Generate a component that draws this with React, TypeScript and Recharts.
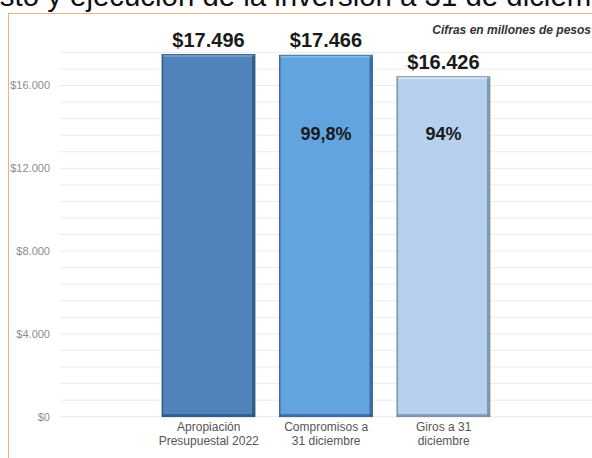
import React from 'react';
import { BarChart, Bar, XAxis, YAxis, CartesianGrid, Cell, LabelList } from 'recharts';

const categories = ['Apropiación\nPresupuestal 2022', 'Compromisos a\n31 diciembre', 'Giros a 31\ndiciembre'];
const values = [17496, 17466, 16426];
const percents = ['', '99,8%', '94%'];
const gridTicks = [0, 800, 1600, 2400, 3200, 4000, 4800, 5600, 6400, 7200, 8000, 8800, 9600, 10400, 11200, 12000, 12800, 13600, 14400, 15200, 16000, 16800, 17600];
const labelledTicks = [0, 4000, 8000, 12000, 16000];

const TITLE = 'Presupuesto y ejecución de la inversión a 31 de diciembre';
const NOTE = 'Cifras en millones de pesos';
const PCT_LEVEL = 13700;

const fills = ['#4f83ba', '#61a4df', '#b6d0ee'];
const edges = ['#2b527c', '#2f5f8c', '#72879f'];
const lights = ['#6f9bcb', '#86bbe9', '#d0e2f6'];

const data = categories.map((name, i) => ({ name, value: values[i], pct: percents[i] }));

const fmt = (v: number) => '$' + String(Math.round(v)).replace(/\B(?=(\d{3})+(?!\d))/g, '.');

const BevelBar = (props: any) => {
  const { x, y, width, height, index } = props;
  if (width == null || height == null) return null;
  const i = index ?? 0;
  return (
    <g>
      <rect x={x} y={y} width={width} height={height} fill={fills[i]} />
      <rect x={x + 1} y={y + 0.5} width={width - 2} height={2} fill={lights[i]} />
      <rect x={x + width - 3} y={y + 1} width={3} height={height - 1} fill={edges[i]} opacity={0.75} />
      <rect x={x} y={y + height - 2.5} width={width} height={2.5} fill={edges[i]} opacity={0.75} />
      <rect x={x} y={y} width={1.2} height={height} fill={edges[i]} opacity={0.6} />
      <rect x={x} y={y} width={width} height={height} fill="none" stroke={edges[i]} strokeWidth={0.8} />
    </g>
  );
};

const XTick = (props: any) => {
  const { x, y, payload } = props;
  const lines = String(payload.value).split('\n');
  return (
    <g>
      {lines.map((l, k) => (
        <text key={k} x={x} y={y + 14.5 + k * 13.5} textAnchor="middle" fontSize={12} fill="#555" fontFamily="Liberation Sans, Arial, sans-serif">
          {l}
        </text>
      ))}
    </g>
  );
};

const TopLabel = (props: any) => {
  const { x, y, width, value } = props;
  return (
    <text x={x + width / 2} y={y - 8} textAnchor="middle" fontSize={20} fontWeight="bold" fill="#1a1a1a" fontFamily="Liberation Sans, Arial, sans-serif">
      {fmt(value)}
    </text>
  );
};

const PctLabel = (props: any) => {
  const { x, y, width, height, value, index } = props;
  const p = percents[index];
  if (!p) return null;
  const bottom = y + height;
  const cy = bottom - (PCT_LEVEL * height) / value;
  return (
    <text x={x + width / 2} y={cy + 6.5} textAnchor="middle" fontSize={18} fontWeight="bold" fill="#1a1a1a" fontFamily="Liberation Sans, Arial, sans-serif">
      {p}
    </text>
  );
};

export default function App() {
  return (
    <div style={{ position: 'absolute', left: 0, top: 0, width: 592, height: 458, overflow: 'hidden', background: '#fff', fontFamily: 'Liberation Sans, Arial, sans-serif' }}>
      <div style={{ position: 'absolute', left: -126, top: -19, fontSize: 29.4, lineHeight: '29px', whiteSpace: 'nowrap', color: '#111' }}>{TITLE}</div>
      <div style={{ position: 'absolute', left: 8, top: 13, width: 700, height: 600, borderLeft: '1.5px solid #f0b27c', borderTop: '1.5px solid #f0b27c' }} />
      <div style={{ position: 'absolute', left: 0, top: 0 }}>
        <BarChart width={592} height={458} data={data} margin={{ top: 52.4, right: 0, bottom: 0, left: 0 }}>
          <CartesianGrid vertical={false} stroke="#ebebeb" strokeWidth={1} />
          <XAxis dataKey="name" axisLine={false} tickLine={false} tickSize={0} tickMargin={0} height={41.3} padding={{ left: 90, right: 89.6 }} tick={<XTick />} interval={0} />
          <YAxis width={60} domain={[0, 17600]} ticks={gridTicks} interval={0} axisLine={false} tickLine={false} tickSize={0} tickMargin={10}
            tickFormatter={(v: number) => (labelledTicks.includes(v) ? fmt(v) : '')}
            tick={{ fontSize: 11, fill: '#8c8c8c', fontFamily: 'Liberation Sans, Arial, sans-serif' }} />
          <Bar dataKey="value" barSize={93} isAnimationActive={false} shape={<BevelBar />}>
            {data.map((d, i) => (
              <Cell key={i} fill={fills[i]} />
            ))}
            <LabelList dataKey="value" content={<TopLabel />} />
            <LabelList dataKey="value" content={<PctLabel />} />
          </Bar>
        </BarChart>
      </div>
      <div style={{ position: 'absolute', right: 1, top: 23, fontSize: 12, fontStyle: 'italic', fontWeight: 'bold', color: '#333', whiteSpace: 'nowrap', lineHeight: '14px' }}>{NOTE}</div>
    </div>
  );
}
